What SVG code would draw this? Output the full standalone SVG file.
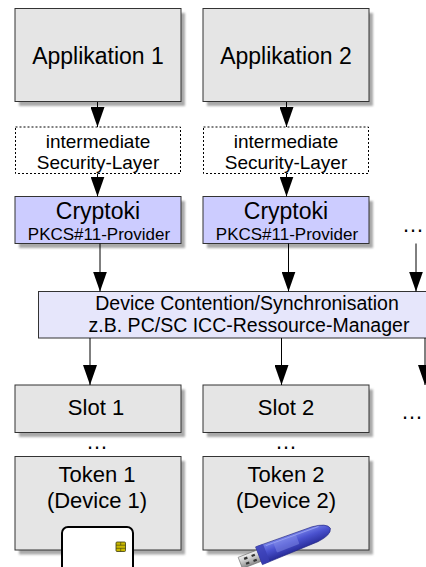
<svg xmlns="http://www.w3.org/2000/svg" width="426" height="567" viewBox="0 0 426 567">
  <style>
    .box { fill: #e5e5e5; stroke: #333333; stroke-width: 1; }
    .prov { fill: #ccccff; stroke: #333333; stroke-width: 1; }
    .bar { fill: #e6e6fb; stroke: #333333; stroke-width: 1; }
    .dash { fill: #ffffff; stroke: #000000; stroke-width: 1; stroke-dasharray: 2 2; }
    .shadow { fill: #a9a9a9; filter: url(#soft); }
    text { font-family: "Liberation Sans", Arial, sans-serif; fill: #000000; text-anchor: middle; }
    .big { font-size: 23px; }
    .mid { font-size: 19.5px; }
    .layer { font-size: 19px; }
    .small { font-size: 17px; }
    .slot { font-size: 22px; }
    .conn line { stroke: #000000; stroke-width: 1; marker-end: url(#head); }
  </style>
  <defs>
    <filter id="soft" x="-10%" y="-10%" width="120%" height="120%">
      <feGaussianBlur stdDeviation="0.8"/>
    </filter>
    <marker id="head" markerUnits="userSpaceOnUse" markerWidth="20" markerHeight="14" viewBox="0 0 20 14" refX="20" refY="7" orient="auto">
      <path d="M0,0 L20,7 L0,14 Z" fill="#000000"/>
    </marker>
    <linearGradient id="blue" x1="0" y1="0" x2="0" y2="1">
      <stop offset="0" stop-color="#7a86ec"/>
      <stop offset="0.45" stop-color="#4a52cf"/>
      <stop offset="1" stop-color="#262a96"/>
    </linearGradient>
    <linearGradient id="metal" x1="0" y1="0" x2="0" y2="1">
      <stop offset="0" stop-color="#f2f2f2"/>
      <stop offset="0.5" stop-color="#c4c4c4"/>
      <stop offset="1" stop-color="#8a8a8a"/>
    </linearGradient>
  </defs>

  <!-- applications -->
  <g id="app1">
    <rect class="shadow" x="19" y="13" width="166" height="93"/>
    <rect class="box" x="15" y="8.5" width="166" height="93"/>
    <text class="big" x="98" y="64">Applikation 1</text>
  </g>
  <g id="app2">
    <rect class="shadow" x="207" y="13" width="166" height="93"/>
    <rect class="box" x="203" y="8.5" width="166" height="93"/>
    <text class="big" x="286" y="64">Applikation 2</text>
  </g>

  <!-- optional intermediate layers -->
  <g id="layer1">
    <rect class="dash" x="15.5" y="127" width="165" height="46.5"/>
    <text class="layer" x="98" y="147.5">intermediate</text>
    <text class="layer" x="98" y="168.8">Security-Layer</text>
  </g>
  <g id="layer2">
    <rect class="dash" x="203.5" y="127" width="165" height="46.5"/>
    <text class="layer" x="286" y="147.5">intermediate</text>
    <text class="layer" x="286" y="168.8">Security-Layer</text>
  </g>

  <!-- PKCS#11 providers -->
  <g id="provider1">
    <rect class="shadow" x="19" y="201" width="166" height="47"/>
    <rect class="prov" x="15" y="196.5" width="166" height="47"/>
    <text class="big" x="98" y="219">Cryptoki</text>
    <text class="small" x="99" y="240">PKCS#11-Provider</text>
  </g>
  <g id="provider2">
    <rect class="shadow" x="207" y="201" width="166" height="47"/>
    <rect class="prov" x="203" y="196.5" width="166" height="47"/>
    <text class="big" x="286" y="219">Cryptoki</text>
    <text class="small" x="287" y="240">PKCS#11-Provider</text>
  </g>
  <g id="provider-more">
    <text class="slot" x="413" y="232">…</text>
  </g>

  <!-- resource manager -->
  <g id="manager">
    <rect class="bar" x="38.5" y="291.5" width="422" height="46.5"/>
    <text class="mid" x="247" y="310">Device Contention/Synchronisation</text>
    <text class="mid" x="249" y="332">z.B. PC/SC ICC-Ressource-Manager</text>
  </g>

  <!-- slots -->
  <g id="slot1">
    <rect class="shadow" x="19" y="389.5" width="166" height="47.5"/>
    <rect class="box" x="15" y="385" width="166" height="47.5"/>
    <text class="slot" x="96" y="415">Slot 1</text>
  </g>
  <g id="slot2">
    <rect class="shadow" x="207" y="389.5" width="166" height="47.5"/>
    <rect class="box" x="203" y="385" width="166" height="47.5"/>
    <text class="slot" x="286" y="415">Slot 2</text>
  </g>
  <g id="slot-more">
    <text class="slot" x="412" y="419">…</text>
  </g>
  <g id="gap1"><text class="slot" x="97" y="449">…</text></g>
  <g id="gap2"><text class="slot" x="286" y="449">…</text></g>

  <!-- tokens -->
  <g id="token1">
    <rect class="shadow" x="19" y="461" width="166" height="93.5"/>
    <rect class="box" x="15" y="456.5" width="166" height="93.5"/>
    <text class="slot" x="97" y="482">Token 1</text>
    <text class="slot" x="97" y="508">(Device 1)</text>
    <!-- smart card -->
    <rect x="62" y="527" width="71" height="50" rx="6" fill="#ffffff" stroke="#000000" stroke-width="2"/>
    <rect x="116" y="542" width="9.5" height="9.5" rx="1" fill="#c9b800" stroke="#3a3a10" stroke-width="0.8"/>
    <path d="M116,545.2 H125.5 M116,548.3 H125.5 M120.7,542 V545.2 M120.7,548.3 V551.5" stroke="#3a3a10" stroke-width="0.6" fill="none"/>
  </g>
  <g id="token2">
    <rect class="shadow" x="207" y="461" width="166" height="93.5"/>
    <rect class="box" x="203" y="456.5" width="166" height="93.5"/>
    <text class="slot" x="286" y="482">Token 2</text>
    <text class="slot" x="286" y="508">(Device 2)</text>
    <!-- USB token -->
    <g transform="translate(287,545) rotate(-21)">
      <rect x="-50" y="-6" width="23" height="12" fill="url(#metal)" stroke="#6a6a6a" stroke-width="0.6"/>
      <rect x="-45" y="-3.5" width="3.5" height="2.2" fill="#333333"/>
      <rect x="-37" y="-3.5" width="3.5" height="2.2" fill="#333333"/>
      <rect x="-45" y="1.8" width="3.5" height="2.2" fill="#333333"/>
      <rect x="-37" y="1.8" width="3.5" height="2.2" fill="#333333"/>
      <path d="M-30,-9.5 L30,-8 Q45,-6.5 46.5,0 Q45,6.5 30,8 L-30,9.5 Z" fill="url(#blue)" stroke="#20237f" stroke-width="0.6"/>
      <rect x="-30" y="-9.5" width="8" height="19" rx="1.5" fill="#3a3fb4" opacity="0.8"/>
      <rect x="-12" y="-6.5" width="24" height="10" rx="1" fill="#8a93ea" opacity="0.45"/>
      <path d="M-20,-7 L36,-6" stroke="#a8b0f5" stroke-width="1" opacity="0.7"/>
    </g>
  </g>

  <!-- connectors -->
  <g id="connectors" class="conn">
    <line x1="97.5" y1="102" x2="97.5" y2="127"/>
    <line x1="286.5" y1="102" x2="286.5" y2="127"/>
    <line x1="97.5" y1="173.5" x2="97.5" y2="196.5"/>
    <line x1="286.5" y1="173.5" x2="286.5" y2="196.5"/>
    <line x1="100" y1="243.5" x2="100" y2="291.5"/>
    <line x1="288.5" y1="243.5" x2="288.5" y2="291.5"/>
    <line x1="416" y1="243.5" x2="416" y2="291.5"/>
    <line x1="90" y1="338" x2="90" y2="385"/>
    <line x1="281.5" y1="338" x2="281.5" y2="385"/>
    <line x1="425" y1="338" x2="425" y2="385"/>
  </g>
</svg>
